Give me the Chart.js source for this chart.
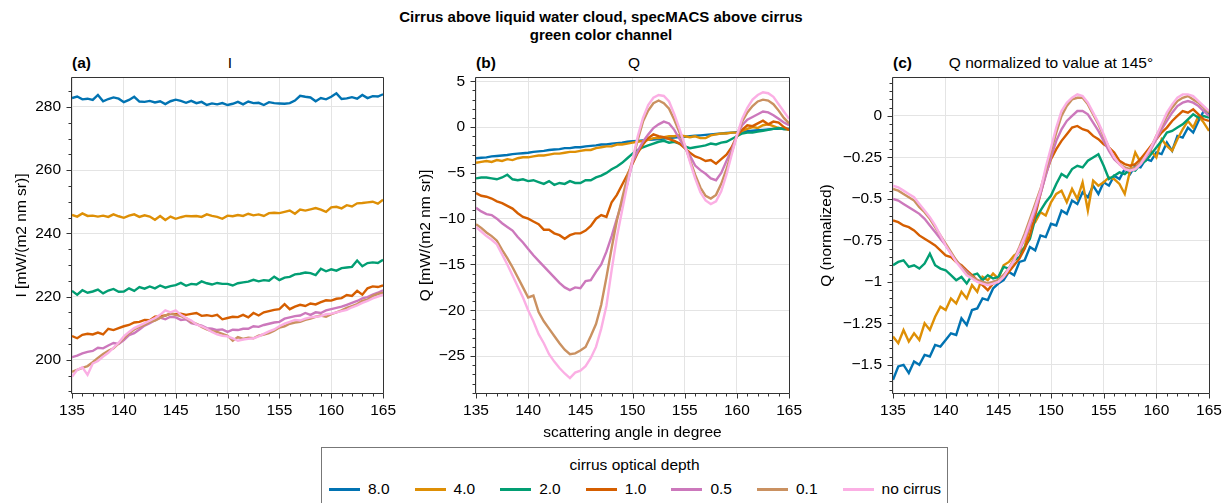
<!DOCTYPE html>
<html><head><meta charset="utf-8">
<script src="https://cdn.jsdelivr.net/npm/chart.js@4.4.1/dist/chart.umd.min.js"></script>
<style>
html,body{margin:0;padding:0;background:#fff;}
body{width:1231px;height:503px;position:relative;overflow:hidden;font-family:'Liberation Sans',Arial,Helvetica,sans-serif;color:#000;}
canvas{position:absolute;top:0;}
.t{position:absolute;white-space:nowrap;font-size:15.5px;line-height:18px;}
.b{font-weight:bold;}
.st{font-size:15px;}
#leg{position:absolute;left:321px;top:447px;width:627px;height:70px;border:1px solid #777;box-sizing:border-box;background:#fff;}
.sw{position:absolute;height:2.5px;width:31px;}
</style></head><body>
<div class="t b st" style="left:0;width:1202px;text-align:center;top:8px">Cirrus above liquid water cloud, specMACS above cirrus<br>green color channel</div>
<div class="t b" style="left:72px;top:54px">(a)</div>
<div class="t" style="left:130px;width:200px;text-align:center;top:54px">I</div>
<div class="t b" style="left:476px;top:54px">(b)</div>
<div class="t" style="left:534px;width:200px;text-align:center;top:54px">Q</div>
<div class="t b" style="left:893px;top:54px">(c)</div>
<div class="t" style="left:901px;width:300px;text-align:center;top:54px">Q normalized to value at 145°</div>
<canvas id="ca" width="404" height="450" style="left:0px"></canvas>
<canvas id="cb" width="410" height="450" style="left:400px"></canvas>
<canvas id="cc" width="426" height="450" style="left:805px"></canvas>
<div id="leg"><div class="t" style="left:0;width:100%;text-align:center;top:8px">cirrus optical depth</div></div>
<script>
// ---------------- data ----------------
const angles = [135,135.5,136,136.5,137,137.5,138,138.5,139,139.5,
140,140.5,141,141.5,142,142.5,143,143.5,144,144.5,
145,145.5,146,146.5,147,147.5,148,148.5,149,149.5,
150,150.5,151,151.5,152,152.5,153,153.5,154,154.5,
155,155.5,156,156.5,157,157.5,158,158.5,159,159.5,
160,160.5,161,161.5,162,162.5,163,163.5,164,164.5,165];

const seriesNames = ['8.0','4.0','2.0','1.0','0.5','0.1','no cirrus'];
const seriesColors = ['#0173B2','#DE8F05','#029E73','#D55E00','#CC78BC','#CA9161','#FBAFE4'];

const xTicks = [135,140,145,150,155,160,165];
const yTicksI = [200,220,240,260,280];
const yTicksQ = [5,0,-5,-10,-15,-20,-25];
const yTicksN = [0,-0.25,-0.5,-0.75,-1,-1.25,-1.5];

// panel (a): I
const I_80 = [282.8,283.3,282.4,282.6,282.2,283.8,281.8,282.5,283.0,282.6,
281.5,282.2,283.2,281.7,281.6,281.9,281.4,281.8,280.9,281.8,
282.3,281.9,281.3,281.9,281.2,281.6,280.6,281.1,280.8,281.2,
280.6,281.0,281.6,280.8,281.7,281.2,281.3,280.6,281.5,281.2,
281.1,281.0,281.2,282.0,283.5,283.2,283.0,281.8,282.8,282.4,
283.2,284.3,282.5,282.7,283.1,282.6,283.8,282.8,283.4,283.3,284.0];
const I_40 = [245.8,245.3,246.3,245.5,245.6,245.3,245.6,245.2,246.0,245.4,
244.9,245.6,246.0,245.2,245.7,245.3,244.3,245.5,244.2,245.3,
244.6,245.1,245.5,245.4,245.5,245.2,246.0,245.5,245.2,244.6,
245.6,245.4,245.8,245.5,246.2,245.7,246.0,245.5,246.4,246.5,
246.4,246.8,247.2,246.2,247.5,247.2,247.6,248.0,247.5,246.8,
248.2,248.4,247.9,248.9,248.5,249.5,249.6,249.8,250.0,249.4,250.6];
const I_20 = [221.8,220.6,222.0,221.2,221.6,222.2,221.0,221.9,222.4,221.5,
221.6,222.6,221.8,223.0,222.5,223.2,222.6,223.5,222.8,223.3,
223.6,224.3,223.4,224.0,223.8,224.8,224.2,223.8,224.3,224.0,
224.0,223.5,224.2,224.5,224.7,225.3,224.8,225.2,225.0,226.3,
225.2,226.0,226.2,227.0,227.2,227.6,227.4,226.8,228.8,228.0,
228.6,228.2,229.0,229.2,229.4,231.4,229.6,230.6,230.8,230.6,231.6];
const I_10 = [207.5,206.8,207.9,208.2,208.0,208.6,208.0,209.8,209.4,210.0,
210.6,211.0,211.8,212.0,212.6,212.5,213.6,213.8,214.0,214.6,
214.4,214.6,214.2,214.5,214.8,213.9,214.1,213.8,214.2,212.8,
213.2,213.6,213.5,214.2,213.4,214.8,214.0,215.0,215.4,215.8,
216.0,217.6,216.0,216.8,217.4,217.0,217.8,217.5,218.2,218.8,
218.7,219.3,219.5,220.5,220.2,221.8,220.6,222.6,223.2,223.0,223.5];
const I_05 = [200.8,201.3,202.0,202.5,202.8,203.8,203.6,204.5,205.3,205.0,
206.2,207.8,208.4,209.6,210.8,211.6,212.5,213.3,212.8,213.6,
213.4,212.6,212.8,211.6,211.2,210.8,210.0,209.8,209.4,209.6,
208.8,209.5,209.4,209.8,209.8,210.6,210.4,211.0,211.4,211.8,
212.0,213.0,213.4,213.8,214.0,214.8,214.2,215.0,214.8,215.6,
216.0,216.4,216.8,217.4,218.0,218.6,219.4,219.8,220.6,221.2,222.0];
const I_01 = [196.2,196.8,197.4,198.0,199.2,200.6,201.8,202.8,203.6,205.2,
206.8,208.4,209.6,210.4,211.0,212.0,212.4,213.2,214.0,214.6,
214.2,213.8,213.2,212.0,211.4,210.4,209.6,209.0,208.8,208.2,
207.6,206.0,207.2,206.6,207.0,206.8,207.6,208.0,208.4,209.2,
210.2,210.6,211.4,211.8,212.0,212.6,213.0,213.6,214.0,213.6,
214.4,215.0,215.6,216.4,217.0,217.6,218.6,219.0,220.2,220.8,221.2];
const I_00 = [194.6,196.8,197.6,195.2,198.8,199.6,201.0,202.2,203.8,205.4,
207.4,208.8,210.0,210.8,211.6,212.4,213.2,214.2,215.6,215.0,
215.6,214.2,213.2,212.4,211.2,210.6,209.8,208.8,208.0,207.6,
207.4,206.8,206.0,206.4,206.6,206.8,207.4,208.2,209.0,209.6,
210.6,211.4,212.0,212.6,212.4,213.0,213.4,213.6,213.8,214.4,
214.6,215.0,215.4,215.8,216.6,217.2,218.0,218.6,219.4,220.0,220.6];

// panel (b): Q
const Q_80 = [-3.4,-3.35,-3.3,-3.2,-3.15,-3.1,-3.05,-2.95,-2.9,-2.85,
-2.8,-2.7,-2.65,-2.6,-2.5,-2.45,-2.4,-2.3,-2.3,-2.2,
-2.2,-2.1,-2.05,-2.0,-1.9,-1.9,-1.8,-1.75,-1.7,-1.6,
-1.55,-1.5,-1.45,-1.4,-1.35,-1.3,-1.25,-1.2,-1.15,-1.1,
-1.05,-1.0,-0.95,-0.9,-0.85,-0.8,-0.75,-0.7,-0.65,-0.6,
-0.55,-0.5,-0.45,-0.4,-0.35,-0.3,-0.25,-0.2,-0.15,-0.2,-0.2];
const Q_40 = [-3.9,-3.8,-3.7,-3.8,-3.6,-3.7,-3.5,-3.6,-3.4,-3.3,
-3.3,-3.2,-3.1,-3.1,-3.0,-2.9,-2.9,-2.8,-2.7,-2.7,
-2.6,-2.5,-2.5,-2.3,-2.2,-2.1,-2.1,-1.9,-1.9,-1.8,
-1.7,-1.6,-1.5,-1.4,-1.2,-1.2,-1.1,-1.0,-1.0,-0.9,
-1.0,-1.1,-1.0,-1.2,-1.2,-0.9,-0.8,-0.7,-0.7,-0.6,
-0.6,-0.4,-0.2,0.0,-0.1,0.2,0.3,0.1,-0.1,-0.2,-0.3];
const Q_20 = [-5.6,-5.5,-5.5,-5.6,-5.7,-5.5,-5.2,-5.7,-5.8,-5.7,
-5.9,-5.8,-6.0,-6.2,-5.9,-6.3,-6.1,-6.2,-5.9,-6.1,
-6.1,-5.8,-5.8,-5.5,-5.3,-5.0,-4.6,-4.3,-3.9,-3.4,
-2.9,-2.5,-2.2,-2.0,-1.8,-1.6,-1.5,-1.7,-1.6,-1.8,
-2.1,-2.3,-2.2,-2.1,-2.0,-1.8,-1.9,-1.7,-1.6,-1.3,
-1.0,-0.7,-0.6,-0.6,-0.5,-0.4,-0.3,-0.2,-0.1,-0.2,-0.2];
const Q_10 = [-7.2,-7.5,-7.6,-7.8,-8.1,-8.3,-8.6,-8.9,-9.4,-9.8,
-10.0,-10.3,-10.6,-11.2,-11.2,-11.6,-11.8,-12.2,-11.8,-11.6,
-11.6,-11.3,-10.8,-10.0,-9.6,-9.8,-8.2,-7.4,-6.3,-5.2,
-4.0,-2.8,-1.9,-1.2,-0.8,-1.0,-1.1,-1.3,-1.5,-1.8,
-2.3,-2.8,-3.2,-3.4,-3.7,-3.6,-4.0,-3.5,-3.0,-2.2,
-1.0,-0.3,0.2,0.1,0.4,0.7,0.3,0.6,0.5,0.0,-0.3];
const Q_05 = [-8.8,-9.2,-9.5,-9.6,-10.0,-10.5,-10.9,-11.3,-12.0,-12.6,
-13.3,-14.0,-14.6,-15.2,-15.8,-16.4,-17.0,-17.5,-17.8,-17.5,
-17.6,-16.8,-16.7,-15.8,-15.0,-13.6,-11.9,-10.0,-8.2,-6.2,
-3.8,-2.6,-1.6,-0.8,-0.1,0.3,0.6,0.4,-0.3,-1.3,
-2.2,-3.1,-4.2,-4.7,-5.1,-5.6,-5.8,-5.0,-3.7,-2.5,
-0.9,0.2,0.8,1.1,1.4,1.7,1.6,1.3,0.9,0.5,0.2];
const Q_01 = [-10.6,-11.0,-11.5,-11.9,-12.4,-13.4,-14.3,-15.3,-16.4,-17.5,
-18.6,-18.4,-20.2,-21.2,-22.0,-22.8,-23.6,-24.3,-24.8,-24.7,
-24.4,-24.0,-22.8,-21.5,-19.4,-16.4,-13.2,-10.2,-7.8,-5.5,
-3.6,-1.4,0.6,1.8,2.6,2.9,2.6,2.0,0.8,-0.6,
-2.0,-3.6,-5.2,-6.6,-7.5,-7.8,-7.4,-6.2,-4.6,-2.8,
-0.9,0.6,1.6,2.3,2.8,3.0,2.9,2.5,1.8,1.0,0.4];
const Q_00 = [-10.9,-11.4,-11.9,-12.3,-12.8,-13.9,-15.0,-16.2,-17.4,-18.6,
-20.0,-21.2,-22.6,-23.6,-24.8,-25.6,-26.3,-26.9,-27.4,-26.8,
-26.6,-26.1,-25.2,-24.0,-22.0,-19.5,-15.6,-12.0,-9.1,-6.3,
-3.6,-1.0,1.0,2.4,3.2,3.5,3.4,2.8,1.4,-0.2,
-1.9,-3.8,-5.6,-7.1,-8.0,-8.4,-8.1,-7.0,-5.2,-3.0,
-0.9,0.9,2.1,3.0,3.5,3.8,3.7,3.3,2.5,1.7,0.9];

// panel (c): Q normalized
const N_80 = [-1.59,-1.51,-1.50,-1.55,-1.48,-1.50,-1.44,-1.45,-1.38,-1.39,
-1.35,-1.31,-1.32,-1.22,-1.26,-1.17,-1.16,-1.10,-1.11,-1.04,
-1.01,-0.99,-0.94,-0.96,-0.88,-0.87,-0.79,-0.81,-0.72,-0.73,
-0.65,-0.66,-0.57,-0.59,-0.51,-0.53,-0.46,-0.49,-0.42,-0.47,
-0.40,-0.42,-0.36,-0.38,-0.32,-0.35,-0.30,-0.31,-0.26,-0.27,
-0.22,-0.23,-0.16,-0.21,-0.12,-0.13,-0.07,-0.10,-0.03,0.03,0.01];
const N_40 = [-1.33,-1.37,-1.29,-1.36,-1.31,-1.35,-1.25,-1.29,-1.21,-1.15,
-1.17,-1.10,-1.13,-1.06,-1.10,-1.02,-1.06,-0.97,-0.99,-0.95,
-0.98,-0.90,-0.88,-0.84,-0.82,-0.79,-0.66,-0.64,-0.58,-0.60,
-0.52,-0.47,-0.45,-0.52,-0.44,-0.50,-0.40,-0.57,-0.39,-0.42,
-0.40,-0.37,-0.38,-0.41,-0.47,-0.33,-0.22,-0.28,-0.24,-0.21,
-0.25,-0.14,-0.18,-0.21,-0.14,-0.08,-0.03,-0.07,0.00,-0.04,-0.09];
const N_20 = [-0.90,-0.88,-0.87,-0.91,-0.90,-0.92,-0.89,-0.83,-0.90,-0.92,
-0.93,-0.96,-0.99,-0.97,-1.01,-0.96,-0.95,-0.99,-0.96,-0.98,
-0.97,-0.91,-0.92,-0.87,-0.85,-0.79,-0.74,-0.62,-0.57,-0.52,
-0.48,-0.41,-0.35,-0.37,-0.32,-0.30,-0.31,-0.27,-0.25,-0.23,
-0.30,-0.38,-0.36,-0.34,-0.35,-0.32,-0.33,-0.29,-0.27,-0.23,
-0.19,-0.15,-0.10,-0.09,-0.07,-0.05,-0.02,0.01,-0.01,0.00,-0.01];
const N_10 = [-0.63,-0.64,-0.66,-0.67,-0.69,-0.72,-0.74,-0.76,-0.78,-0.81,
-0.84,-0.85,-0.88,-0.90,-0.93,-0.96,-0.99,-1.02,-1.05,-1.01,
-1.00,-0.97,-0.94,-0.90,-0.86,-0.80,-0.72,-0.60,-0.47,-0.35,
-0.26,-0.20,-0.15,-0.11,-0.07,-0.06,-0.08,-0.09,-0.12,-0.14,
-0.17,-0.19,-0.22,-0.27,-0.29,-0.30,-0.29,-0.26,-0.22,-0.18,
-0.14,-0.10,-0.07,-0.03,0.00,0.03,0.02,0.04,0.01,-0.02,-0.03];
const N_05 = [-0.50,-0.51,-0.53,-0.55,-0.57,-0.59,-0.62,-0.66,-0.70,-0.74,
-0.78,-0.83,-0.87,-0.91,-0.94,-0.97,-0.99,-1.00,-1.01,-1.00,
-0.99,-0.96,-0.92,-0.87,-0.81,-0.74,-0.66,-0.57,-0.47,-0.36,
-0.25,-0.15,-0.08,-0.03,0.00,0.03,0.03,0.01,-0.04,-0.09,
-0.15,-0.21,-0.26,-0.29,-0.32,-0.33,-0.32,-0.29,-0.25,-0.20,
-0.14,-0.08,-0.03,0.02,0.06,0.08,0.09,0.08,0.06,0.03,0.00];
const N_01 = [-0.44,-0.45,-0.47,-0.49,-0.51,-0.55,-0.58,-0.62,-0.67,-0.72,
-0.77,-0.82,-0.87,-0.91,-0.95,-0.97,-0.99,-1.00,-1.01,-1.00,
-0.99,-0.96,-0.92,-0.86,-0.79,-0.71,-0.62,-0.53,-0.44,-0.33,
-0.21,-0.10,0.00,0.06,0.10,0.11,0.11,0.07,0.01,-0.05,
-0.12,-0.19,-0.25,-0.29,-0.31,-0.32,-0.31,-0.28,-0.24,-0.19,
-0.12,-0.06,0.00,0.05,0.09,0.11,0.12,0.10,0.08,0.05,0.02];
const N_00 = [-0.42,-0.43,-0.45,-0.47,-0.49,-0.53,-0.57,-0.61,-0.66,-0.72,
-0.78,-0.83,-0.88,-0.92,-0.96,-0.98,-1.00,-1.01,-1.02,-1.01,
-1.00,-0.97,-0.92,-0.87,-0.80,-0.73,-0.64,-0.55,-0.45,-0.31,
-0.19,-0.07,0.03,0.08,0.11,0.13,0.12,0.08,0.02,-0.04,
-0.11,-0.19,-0.25,-0.29,-0.32,-0.33,-0.32,-0.29,-0.24,-0.19,
-0.12,-0.05,0.02,0.07,0.11,0.13,0.13,0.12,0.09,0.06,0.03];

// ---------------- rendering ----------------
const FONT = "'Liberation Sans', Arial, Helvetica, sans-serif";
const FS = 15.5;
Chart.defaults.font.family = FONT;
Chart.defaults.font.size = FS;
Chart.defaults.color = '#000';

const frameTicks = {
  id: 'frameTicks',
  afterDatasetsDraw(chart, args, o) {
    const ctx = chart.ctx, a = chart.chartArea;
    const xs = chart.scales.x, ys = chart.scales.y;
    ctx.save();
    ctx.strokeStyle = '#333';
    ctx.lineWidth = 1;
    ctx.beginPath();
    const L = Math.round(a.left) - 0.5, R = Math.round(a.right) + 0.5;
    const T = Math.round(a.top) - 0.5, B = Math.round(a.bottom) + 0.5;
    ctx.rect(L, T, R - L, B - T);
    const mx = xs.ticks.map(t => t.value), my = ys.ticks.map(t => t.value);
    for (let k = Math.ceil(xs.min / o.xMinor - 1e-6); k * o.xMinor <= xs.max + 1e-6; k++) {
      const v = k * o.xMinor;
      const major = mx.some(m => Math.abs(m - v) < 1e-6);
      const p = Math.round(xs.getPixelForValue(v)) + 0.5;
      ctx.moveTo(p, B); ctx.lineTo(p, B + (major ? 5 : 3));
    }
    for (let k = Math.ceil(ys.min / o.yMinor - 1e-6); k * o.yMinor <= ys.max + 1e-6; k++) {
      const v = k * o.yMinor;
      const major = my.some(m => Math.abs(m - v) < 1e-6);
      const p = Math.round(ys.getPixelForValue(v)) + 0.5;
      ctx.moveTo(L, p); ctx.lineTo(L - (major ? 5 : 3), p);
    }
    ctx.stroke();
    ctx.restore();
  }
};

function fmt(v) {
  const s = String(Math.abs(Math.round(v * 1000) / 1000));
  return (v < -1e-9 ? '\u2212' : '') + s;
}

function panel(id, yw, rightPad, yMin, yMax, yTicks, yMinor, yTitle, yTitleOff, xTitle, series) {
  const datasets = series.map((vals, i) => ({
    label: seriesNames[i],
    data: vals.map((v, j) => ({x: angles[j], y: v})),
    borderColor: seriesColors[i],
    backgroundColor: seriesColors[i],
    borderWidth: 2.4,
    pointRadius: 0,
    tension: 0,
    fill: false,
    order: series.length - 1 - i
  }));
  const H = 450, chartBottom = 393;
  return new Chart(document.getElementById(id), {
    type: 'line',
    data: {datasets},
    plugins: [frameTicks],
    options: {
      responsive: false,
      animation: false,
      devicePixelRatio: 1,
      layout: {padding: {left: 0, right: rightPad, top: 78, bottom: 0}},
      plugins: {
        legend: {display: false},
        title: {display: false},
        tooltip: {enabled: false},
        frameTicks: {xMinor: 1, yMinor: yMinor}
      },
      scales: {
        x: {
          type: 'linear', min: 135, max: 165,
          afterBuildTicks: s => { s.ticks = xTicks.map(v => ({value: v})); },
          afterFit: s => { s.height = H - chartBottom; },
          grid: {color: '#e4e4e4', lineWidth: 1, drawTicks: false},
          border: {display: false},
          ticks: {padding: 8, maxRotation: 0, callback: v => fmt(v), font: {size: FS}},
          title: {display: !!xTitle, text: xTitle || '', padding: {top: 0, bottom: 8}, font: {size: FS}}
        },
        y: {
          type: 'linear', min: yMin, max: yMax,
          afterBuildTicks: s => { s.ticks = yTicks.map(v => ({value: v})); },
          afterFit: s => { s.width = yw; },
          grid: {color: '#e4e4e4', lineWidth: 1, drawTicks: false},
          border: {display: false},
          ticks: {padding: 11, callback: v => fmt(v), font: {size: FS}},
          title: {display: true, text: yTitle, padding: {top: yTitleOff - 9, bottom: 0}, font: {size: FS}}
        }
      }
    }
  });
}

panel('ca', 72, 16, 189.48, 289.15, yTicksI, 5, 'I [mW/(m2 nm sr)]', 21, null,
  [I_80, I_40, I_20, I_10, I_05, I_01, I_00]);
panel('cb', 76, 18, -29.03, 5.36, yTicksQ, 1, 'Q [mW/(m2 nm sr)]', 25, 'scattering angle in degree',
  [Q_80, Q_40, Q_20, Q_10, Q_05, Q_01, Q_00]);
panel('cc', 88, 22, -1.67, 0.229, yTicksN, 0.05, 'Q (normalized)', 21, null,
  [N_80, N_40, N_20, N_10, N_05, N_01, N_00]);

// legend
const leg = document.getElementById('leg');
seriesNames.forEach((name, i) => {
  const x0 = 7 + i * 85.6;
  const sw = document.createElement('div');
  sw.className = 'sw';
  sw.style.left = x0 + 'px';
  sw.style.top = '40px';
  sw.style.background = seriesColors[i];
  leg.appendChild(sw);
  const tx = document.createElement('div');
  tx.className = 't';
  tx.style.left = (x0 + 39) + 'px';
  tx.style.top = '32px';
  tx.textContent = name;
  leg.appendChild(tx);
});
</script>
</body></html>
